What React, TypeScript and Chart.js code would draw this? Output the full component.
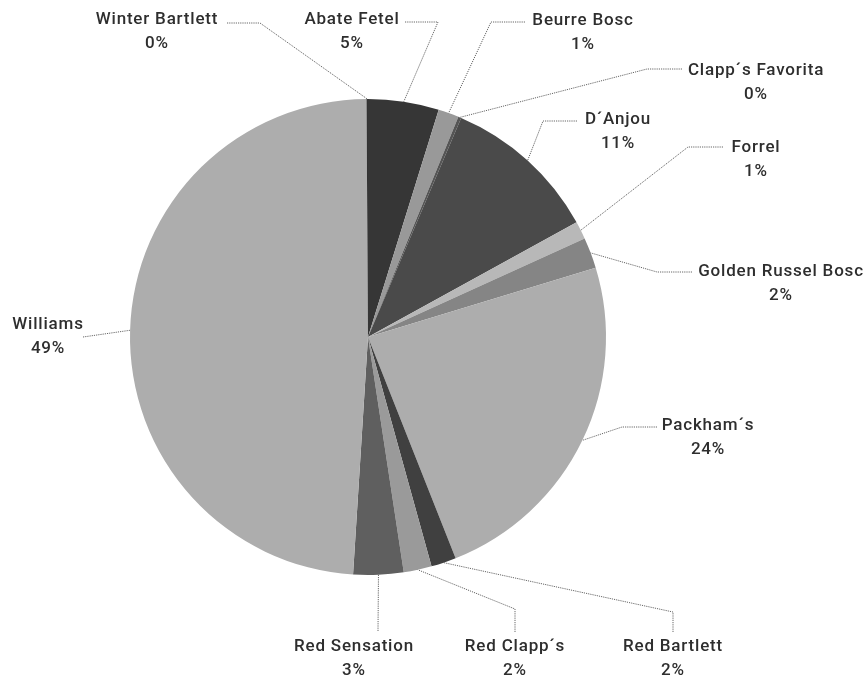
import React, { useEffect, useRef } from "react";
import { Chart, registerables } from "chart.js";

Chart.register(...registerables);

const categories = [
  "Abate Fetel",
  "Beurre Bosc",
  "Clapp´s Favorita",
  "D´Anjou",
  "Forrel",
  "Golden Russel Bosc",
  "Packham´s",
  "Red Bartlett",
  "Red Clapp´s",
  "Red Sensation",
  "Williams",
  "Winter Bartlett",
];

const shares = [4.8, 1.4, 0.2, 10.6, 1.2, 2.1, 23.7, 1.7, 1.9, 3.4, 48.9, 0.1];

const sliceColors = [
  "#363636",
  "#999999",
  "#555555",
  "#4a4a4a",
  "#b8b8b8",
  "#858585",
  "#adadad",
  "#404040",
  "#9a9a9a",
  "#5f5f5f",
  "#adadad",
  "#333333",
];

// label layout: text centre and leader path (offsets from pie centre), leader ends at slice mid-angle on the rim
const labelLayout: { t: [number, number]; path: [number, number][] }[] = [
  { t: [-16, -317], path: [[37, -315], [70, -315]] },
  { t: [215, -316], path: [[157, -315], [123, -315]] },
  { t: [388, -266], path: [[314, -268], [279, -268]] },
  { t: [250, -217], path: [[209, -216], [175, -216]] },
  { t: [388, -189], path: [[355, -190], [320, -190]] },
  { t: [413, -65], path: [[324, -65], [289, -65]] },
  { t: [340, 89], path: [[289, 90], [254, 90]] },
  { t: [305, 310], path: [[305, 295], [305, 275]] },
  { t: [147, 310], path: [[147, 295], [147, 272]] },
  { t: [-14, 310], path: [[10, 294]] },
  { t: [-320, -12], path: [[-285, 0]] },
  { t: [-211, -317], path: [[-141, -314], [-108, -314]] },
];

const labelPlugin = {
  id: "outerLabels",
  afterDraw(chart: any) {
    const ctx = chart.ctx as CanvasRenderingContext2D;
    const meta = chart.getDatasetMeta(0);
    const data = chart.data.datasets[0].data as number[];
    const total = data.reduce((a, b) => a + b, 0);
    ctx.save();
    meta.data.forEach((arc: any, i: number) => {
      const { x, y, startAngle, endAngle, outerRadius } = arc.getProps(
        ["x", "y", "startAngle", "endAngle", "outerRadius"],
        true
      );
      const mid = (startAngle + endAngle) / 2;
      const ax = x + Math.cos(mid) * outerRadius;
      const ay = y + Math.sin(mid) * outerRadius;
      const lay = labelLayout[i];
      // leader line
      ctx.beginPath();
      ctx.setLineDash([1.2, 1]);
      ctx.strokeStyle = "#666666";
      ctx.lineWidth = 1;
      lay.path.forEach((p, k) => {
        if (k === 0) ctx.moveTo(x + p[0], y + p[1]);
        else ctx.lineTo(x + p[0], y + p[1]);
      });
      ctx.lineTo(ax, ay);
      ctx.stroke();
      ctx.setLineDash([]);
      // text
      ctx.fillStyle = "#2e2e2e";
      ctx.font = "500 17px Roboto";
      (ctx as any).letterSpacing = "0.8px";
      ctx.textAlign = "center";
      ctx.textBaseline = "middle";
      const pct = Math.round((data[i] / total) * 100) + "%";
      ctx.fillText(chart.data.labels[i], x + lay.t[0], y + lay.t[1]);
      ctx.fillText(pct, x + lay.t[0], y + lay.t[1] + 24);
    });
    ctx.restore();
  },
};

export default function App() {
  const ref = useRef<HTMLCanvasElement>(null);
  useEffect(() => {
    if (!ref.current) return;
    const chart = new Chart(ref.current, {
      type: "pie",
      data: {
        labels: categories,
        datasets: [
          {
            data: shares,
            backgroundColor: sliceColors,
            borderWidth: 0,
          },
        ],
      },
      options: {
        responsive: false,
        animation: false,
        layout: { padding: { left: 130, right: 261, top: 99, bottom: 106 } },
        plugins: {
          legend: { display: false },
          tooltip: { enabled: false },
        },
      },
      plugins: [labelPlugin],
    });
    return () => chart.destroy();
  }, []);
  return (
    <div style={{ position: "fixed", left: 0, top: 0, width: 867, height: 681, background: "#fff" }}>
      <canvas ref={ref} width={867} height={681} style={{ width: 867, height: 681 }} />
    </div>
  );
}
